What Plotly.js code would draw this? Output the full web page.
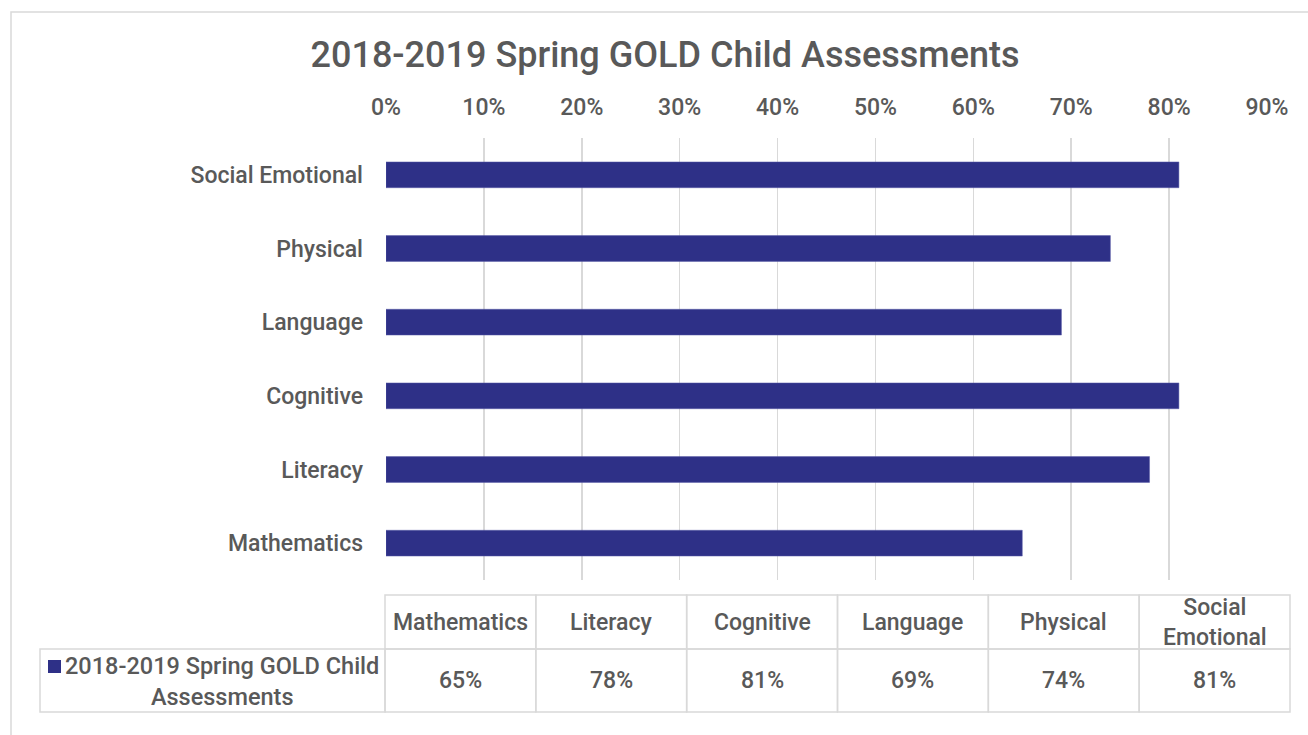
<!DOCTYPE html>
<html>
<head>
<meta charset="utf-8">
<script src="https://cdn.plot.ly/plotly-3.0.1.min.js"></script>
<style>html,body{margin:0;padding:0;background:#fff;}#chart{width:1308px;height:735px;}</style>
</head>
<body>
<div id="chart"></div>
<script>
// ---- data ----
const categories = ["Mathematics", "Literacy", "Cognitive", "Language", "Physical", "Social Emotional"];
const headerLabels = ["Mathematics", "Literacy", "Cognitive", "Language", "Physical", "Social<br>Emotional"];
const values = [0.65, 0.78, 0.81, 0.69, 0.74, 0.81];
const seriesName = "2018-2019 Spring GOLD Child Assessments";
const chartTitle = "2018-2019 Spring GOLD Child Assessments";
const xTickValues = [0, 0.1, 0.2, 0.3, 0.4, 0.5, 0.6, 0.7, 0.8, 0.9];

// ---- layout constants ----
const W = 1308, H = 735;
const L = 386, R = 1267, T = 138, B = 580;
const FONT = "Roboto, Liberation Sans, Arial, sans-serif";
const WEIGHT = 500;
const TXT = "#595959";
const BAR = "#2E3087";
const GRID = "#d9d9d9";

function px(x) { return (x - L) / (R - L); }
function py(y) { return (B - y) / (B - T); }

const shapes = [];
const annotations = [];
const tf = (s) => ({family: FONT, size: s, color: TXT, weight: WEIGHT});

// outer chart border
shapes.push({type: "rect", xref: "paper", yref: "paper",
  x0: px(11), x1: px(1330), y0: py(12), y1: py(760),
  line: {color: GRID, width: 1.5}, fillcolor: "rgba(0,0,0,0)"});

// data table
const colLeft = 385, colW = (1290 - 385) / categories.length;
const rowTop = 595, rowMid = 649, rowBot = 712, legLeft = 40;
for (let i = 0; i < categories.length; i++) {
  const x0 = colLeft + i * colW, x1 = x0 + colW;
  shapes.push({type: "rect", xref: "paper", yref: "paper",
    x0: px(x0), x1: px(x1), y0: py(rowMid), y1: py(rowTop),
    line: {color: GRID, width: 1.5}});
  shapes.push({type: "rect", xref: "paper", yref: "paper",
    x0: px(x0), x1: px(x1), y0: py(rowBot), y1: py(rowMid),
    line: {color: GRID, width: 1.5}});
  annotations.push({xref: "paper", yref: "paper", x: px((x0 + x1) / 2), y: py((rowTop + rowMid) / 2),
    text: headerLabels[i], showarrow: false, xanchor: "center", yanchor: "middle",
    font: tf(23)});
  annotations.push({xref: "paper", yref: "paper", x: px((x0 + x1) / 2), y: py((rowMid + rowBot) / 2),
    text: Math.round(values[i] * 100) + "%", showarrow: false, xanchor: "center", yanchor: "middle",
    font: tf(23)});
}
// legend cell
shapes.push({type: "rect", xref: "paper", yref: "paper",
  x0: px(legLeft), x1: px(colLeft), y0: py(rowBot), y1: py(rowMid),
  line: {color: GRID, width: 1.5}});
shapes.push({type: "rect", xref: "paper", yref: "paper",
  x0: px(48), x1: px(61), y0: py(673), y1: py(660),
  line: {width: 0}, fillcolor: BAR});
annotations.push({xref: "paper", yref: "paper", x: px(222), y: py(681),
  text: seriesName.replace(" Assessments", "<br>Assessments"), showarrow: false, xanchor: "center", yanchor: "middle",
  font: tf(23.5)});

const trace = {
  type: "bar", orientation: "h",
  x: values, y: categories, name: seriesName,
  marker: {color: BAR, line: {color: "#5a5ca8", width: 0.5}},
  width: 0.35, hoverinfo: "x+y"
};

const layout = {
  width: W, height: H,
  margin: {l: L, r: W - R, t: T, b: H - B, pad: 0},
  paper_bgcolor: "#fff", plot_bgcolor: "#fff",
  showlegend: false,
  title: {text: chartTitle, x: 665 / W, xref: "container", xanchor: "center", y: 1 - 54 / H, yanchor: "middle",
    font: tf(36)},
  xaxis: {side: "top", range: [0, 0.9], tickvals: xTickValues, tickformat: ".0%",
    showgrid: true, gridcolor: GRID, gridwidth: 1.5, zeroline: false, showline: false,
    ticks: "", ticklabelstandoff: 17, fixedrange: true,
    tickfont: tf(23)},
  yaxis: {type: "category", categoryorder: "array", categoryarray: categories,
    showgrid: false, zeroline: false, showline: false, ticks: "", ticklabelstandoff: 22,
    tickfont: tf(23), fixedrange: true},
  shapes: shapes, annotations: annotations
};

Plotly.newPlot("chart", [trace], layout, {displayModeBar: false, staticPlot: true});
</script>
</body>
</html>
